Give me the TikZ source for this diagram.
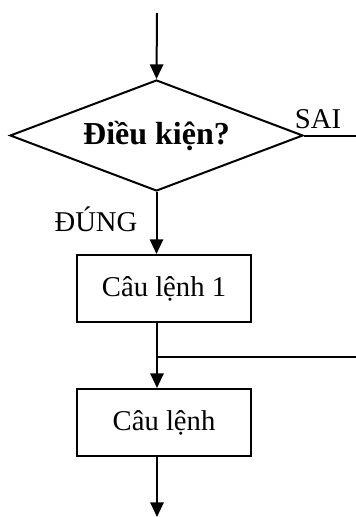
\documentclass[tikz,border=0pt]{standalone}
\usepackage{fontspec}
\setmainfont{Liberation Serif}
\usetikzlibrary{shapes.geometric,arrows.meta}
\begin{document}
\begin{tikzpicture}[x=0.75pt,y=-0.75pt,
  line width=1.5pt,
  conn/.style={-{Triangle[length=11pt,width=10pt]}},
  decision/.style={draw,diamond,shape aspect=2.64,inner sep=0pt,minimum width=219.75pt,minimum height=83.25pt,font=\fontsize{24}{28}\selectfont\bfseries},
  stmt/.style={draw,rectangle,inner sep=0pt,minimum width=130.5pt,minimum height=50.25pt,font=\fontsize{21.5}{25}\selectfont},
  lbl/.style={inner sep=0pt,font=\fontsize{21.5}{25}\selectfont}]
\useasboundingbox (0,0) rectangle (356,517);
\coordinate (start) at (157,13);
\node[decision] (cond) at (156.5,135.5) {Điều kiện?};
\node[stmt] (s1) at (164,288.5) {Câu lệnh 1};
\node[stmt] (s2) at (164,422.5) {Câu lệnh};
\coordinate (saiend) at (356,135.5);
\coordinate (join) at (157,357);
\coordinate (joinend) at (356,357);
\coordinate (end) at (157,517);
\node[lbl] (sai) at (318,119) {SAI};
\node[lbl] (dung) at (96,219) {ĐÚNG};
\draw[conn] (start) -- (cond.north);
\draw (cond.east) -- (saiend);
\draw[conn] (cond.south) -- (cond.south |- s1.north);
\draw (s1.south -| join) -- (join);
\draw (join) -- (joinend);
\draw[conn] (join) -- (join |- s2.north);
\draw[conn] (s2.south -| end) -- (end);
\end{tikzpicture}
\end{document}
